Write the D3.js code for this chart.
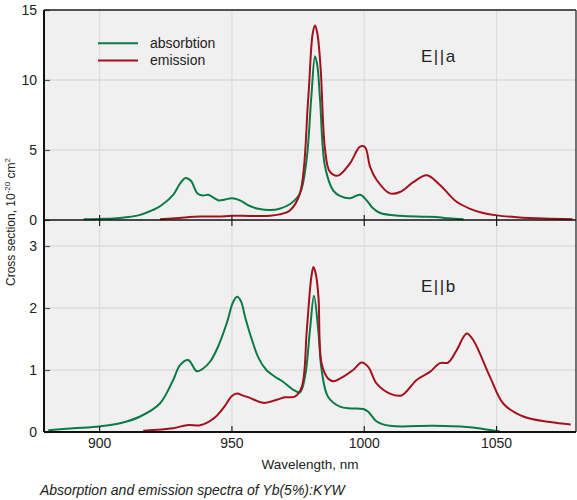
<!DOCTYPE html>
<meta charset="utf-8">
<title>Yb:KYW spectra</title>
<style>
  body { margin: 0; background: #fff; }
  text { font-family: "Liberation Sans", Arial, sans-serif; fill: #222; }
</style>
<body>
<script src="https://cdnjs.cloudflare.com/ajax/libs/d3/7.8.5/d3.min.js"></script>
<script>

// wavelength (nm) / cross section (10^-20 cm^2) pairs
var absA = [[894,0.05],[900,0.08],[907.7,0.15],[915,0.35],[920,0.7],[923,1.0],[927.8,1.8],[930.4,2.6],[932.5,3.0],[934.5,2.8],[937,1.9],[939,1.75],[941,1.8],[943,1.6],[945,1.4],[947,1.45],[950,1.55],[953,1.4],[956.8,1.0],[960,0.8],[964.4,0.71],[968,0.8],[972,1.14],[975.7,1.9],[978.2,4.3],[980,8.8],[981.4,11.7],[982.3,11.0],[983.3,8.6],[985.2,3.8],[988.3,2.1],[991,1.7],[994.6,1.55],[998.4,1.8],[1000.9,1.4],[1003,0.9],[1006,0.5],[1013.5,0.3],[1022,0.24],[1027,0.22],[1032,0.12],[1037.5,0.05]];
var emiA = [[922.8,0.05],[930,0.15],[938,0.25],[945,0.25],[950,0.3],[956.8,0.29],[964.4,0.3],[968,0.4],[972,0.7],[975.7,1.9],[978.8,8.6],[980.5,13.3],[981.4,13.9],[982.3,13.3],[983.5,10.9],[985.2,5.0],[987,3.45],[990,3.17],[994.6,4.05],[998.4,5.24],[1000.3,5.2],[1002.2,3.8],[1004.7,2.86],[1009.7,1.9],[1013.5,2.0],[1018.5,2.7],[1023.6,3.2],[1028.6,2.5],[1034.9,1.3],[1040,0.8],[1044.9,0.5],[1050,0.33],[1057.6,0.2],[1068,0.1],[1078.7,0.05]];
var absB = [[880.6,0.03],[890,0.06],[900,0.09],[907.7,0.14],[915.3,0.25],[922.8,0.46],[927.8,0.84],[930.4,1.08],[933.5,1.16],[936.7,0.98],[939,1.02],[942,1.15],[945,1.4],[948,1.75],[950.5,2.1],[952,2.18],[953.5,2.1],[955,1.85],[956.8,1.59],[960,1.2],[963,1.0],[966,0.9],[969.3,0.81],[973.2,0.68],[975.7,0.64],[977.6,0.89],[979.5,1.65],[981,2.2],[982.6,1.65],[983.9,1.0],[986.3,0.57],[990.8,0.41],[995,0.38],[999.6,0.37],[1001.4,0.33],[1004.7,0.17],[1009.7,0.1],[1026,0.1],[1038.7,0.08],[1044.9,0.05],[1051.3,0.01]];
var emiB = [[916.5,0.02],[927.8,0.06],[932.9,0.11],[938,0.11],[941,0.16],[944,0.25],[947,0.4],[950,0.58],[952,0.62],[954,0.59],[956.8,0.55],[961.9,0.47],[966.9,0.52],[970,0.56],[973.8,0.57],[976.4,0.73],[978.3,1.65],[980,2.5],[980.8,2.66],[981.7,2.55],[982.7,2.18],[983.9,1.1],[986.4,0.86],[988.5,0.82],[990.8,0.86],[995.8,1.0],[999,1.12],[1001.5,1.05],[1004.7,0.78],[1009.7,0.62],[1014.1,0.59],[1019.8,0.84],[1024.8,0.97],[1028.6,1.11],[1031.7,1.12],[1034.9,1.32],[1038.7,1.59],[1041.2,1.48],[1047.5,0.89],[1052.5,0.46],[1060.1,0.25],[1070.2,0.16],[1078,0.12]];

var xTicks = [900, 950, 1000, 1050];
var yTicksA = [0, 5, 10, 15];
var yTicksB = [0, 1, 2, 3];
var legendNames = ["absorbtion", "emission"];
var panelLabels = ["E||a", "E||b"];

var green = "#0b7a45", red = "#a3101e";

var width = 577, height = 500;
var left = 44, right = 576;

var svg = d3.select("body").append("svg")
    .attr("width", width)
    .attr("height", height);

var x = d3.scaleLinear().domain([879, 1080]).range([left, right]);
var yA = d3.scaleLinear().domain([0, 15]).range([220, 10]);
var yB = d3.scaleLinear().domain([0, 3.42]).range([432, 220]);

// plot background
svg.append("rect")
  .attr("x", left).attr("y", 10)
  .attr("width", right - left).attr("height", 422)
  .attr("fill", "#f0f0f0");

// vertical grid
svg.selectAll(".vgrid").data(xTicks).enter().append("line")
  .attr("x1", d => x(d)).attr("x2", d => x(d))
  .attr("y1", 10).attr("y2", 432)
  .attr("stroke", "#dcdcdc").attr("stroke-width", 1.2);

function panel(y, ticks, abs, emi, label, labelY) {
  // horizontal grid
  svg.append("g").selectAll("line").data(ticks.filter(d => d > 0)).enter().append("line")
    .attr("x1", left).attr("x2", right)
    .attr("y1", d => y(d)).attr("y2", d => y(d))
    .attr("stroke", "#dcdcdc").attr("stroke-width", 1.5);

  // y axis ticks and labels
  var ax = svg.append("g").attr("transform", "translate(" + left + ",0)")
    .call(d3.axisRight(y).tickValues(ticks).tickSize(6).tickFormat(""));
  ax.select(".domain").remove();
  ax.selectAll("line").attr("stroke", "#555").attr("stroke-width", 1.2);

  svg.append("g").selectAll("text").data(ticks).enter().append("text")
    .attr("x", 37).attr("y", d => y(d) + 5)
    .attr("text-anchor", "end")
    .style("font-size", "14px")
    .text(d => d);

  var line = d3.line()
    .x(d => x(d[0])).y(d => y(d[1]))
    .curve(d3.curveCatmullRom.alpha(0.5));

  svg.append("path").datum(abs)
    .attr("d", line).attr("fill", "none")
    .attr("stroke", green).attr("stroke-width", 2);
  svg.append("path").datum(emi)
    .attr("d", line).attr("fill", "none")
    .attr("stroke", red).attr("stroke-width", 2);

  svg.append("text")
    .attr("x", 421).attr("y", labelY)
    .style("font-size", "17px")
    .style("letter-spacing", "1.5px")
    .text(label);
}

panel(yA, yTicksA, absA, emiA, panelLabels[0], 61.5);
panel(yB, yTicksB, absB, emiB, panelLabels[1], 291.5);

// x ticks on the middle divider (crossing) and on the bottom axis (inside)
svg.append("g").selectAll("line").data(xTicks).enter().append("line")
  .attr("x1", d => x(d)).attr("x2", d => x(d))
  .attr("y1", 215).attr("y2", 226)
  .attr("stroke", "#222").attr("stroke-width", 1.2);
svg.append("g").selectAll("line").data(xTicks).enter().append("line")
  .attr("x1", d => x(d)).attr("x2", d => x(d))
  .attr("y1", 426).attr("y2", 432)
  .attr("stroke", "#222").attr("stroke-width", 1.2);

// frame
svg.append("line").attr("x1", left).attr("x2", right).attr("y1", 10).attr("y2", 10)
  .attr("stroke", "#222").attr("stroke-width", 1.5);
svg.append("line").attr("x1", right).attr("x2", right).attr("y1", 10).attr("y2", 432)
  .attr("stroke", "#444").attr("stroke-width", 1.5);
svg.append("line").attr("x1", left).attr("x2", right).attr("y1", 220).attr("y2", 220)
  .attr("stroke", "#111").attr("stroke-width", 1.5);
svg.append("line").attr("x1", left).attr("x2", right).attr("y1", 432).attr("y2", 432)
  .attr("stroke", "#111").attr("stroke-width", 2);
svg.append("line").attr("x1", left).attr("x2", left).attr("y1", 10).attr("y2", 432)
  .attr("stroke", "#111").attr("stroke-width", 2);

// x tick labels
svg.append("g").selectAll("text").data(xTicks).enter().append("text")
  .attr("x", d => x(d)).attr("y", 448)
  .attr("text-anchor", "middle")
  .style("font-size", "14px")
  .text(d => d);

svg.append("text")
  .attr("x", 310).attr("y", 469)
  .attr("text-anchor", "middle")
  .style("font-size", "13.5px")
  .text("Wavelength, nm");

// y label
var yl = svg.append("text")
  .attr("transform", "translate(15,222) rotate(-90)")
  .attr("text-anchor", "middle")
  .style("font-size", "12px");
yl.append("tspan").text("Cross section, 10");
yl.append("tspan").attr("dy", -5).style("font-size", "8px").text("-20");
yl.append("tspan").attr("dy", 5).text(" cm");
yl.append("tspan").attr("dy", -5).style("font-size", "8px").text("2");

// legend
var legendColors = [green, red];
var lg = svg.append("g").selectAll("g").data(legendNames).enter().append("g")
  .attr("transform", (d, i) => "translate(98," + (43.3 + i * 17.2) + ")");
lg.append("line").attr("x1", 0).attr("x2", 40)
  .attr("stroke", (d, i) => legendColors[i]).attr("stroke-width", 2);
lg.append("text").attr("x", 52).attr("y", 4.5)
  .style("font-size", "14px")
  .text(d => d);

// caption
svg.append("text")
  .attr("x", 40).attr("y", 495)
  .style("font-size", "14px")
  .style("font-style", "italic")
  .text("Absorption and emission spectra of Yb(5%):KYW");

</script>
